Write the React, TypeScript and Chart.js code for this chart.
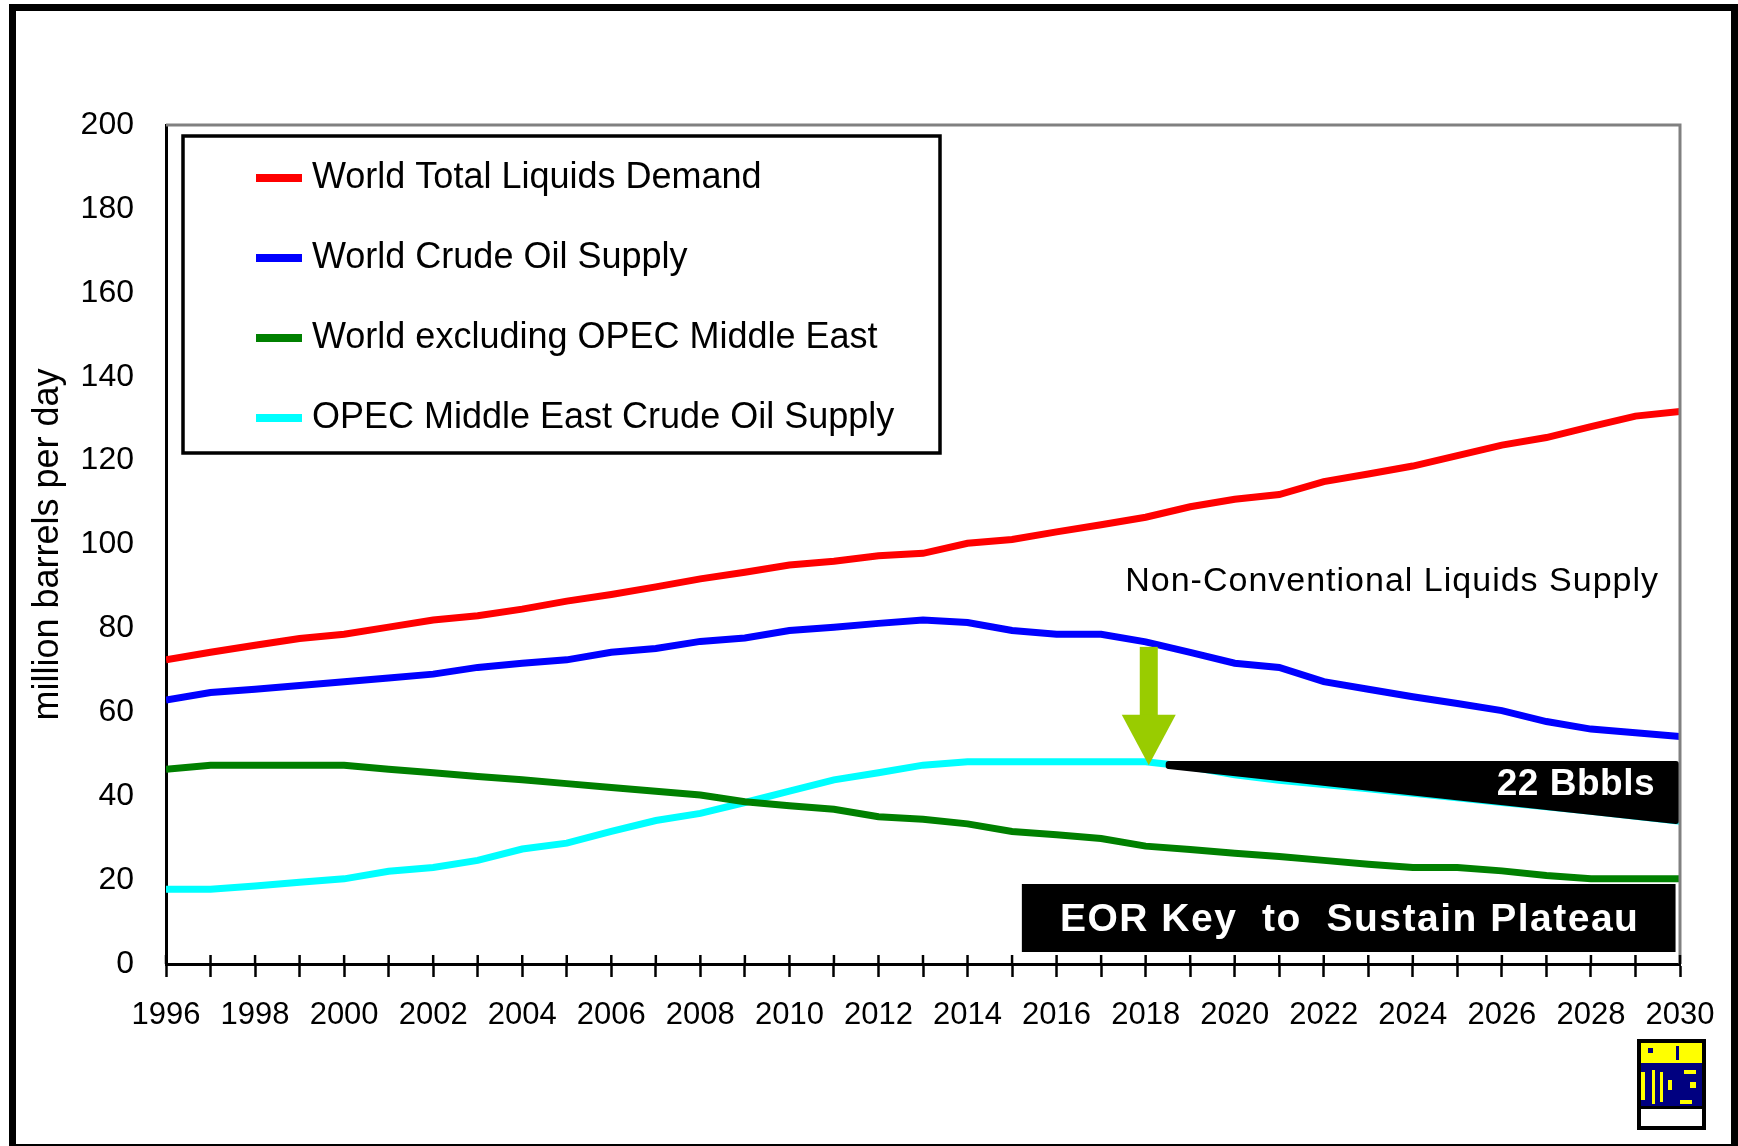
import React, { useEffect, useRef } from "react";
import { Chart, registerables } from "chart.js";

Chart.register(...registerables);

const years = [1996, 1997, 1998, 1999, 2000, 2001, 2002, 2003, 2004, 2005, 2006, 2007, 2008, 2009, 2010, 2011, 2012, 2013, 2014, 2015, 2016, 2017, 2018, 2019, 2020, 2021, 2022, 2023, 2024, 2025, 2026, 2027, 2028, 2029, 2030];

const worldTotalLiquidsDemand = [72.5, 74.3, 76.0, 77.6, 78.6, 80.3, 82.0, 83.0, 84.6, 86.5, 88.1, 89.9, 91.8, 93.4, 95.1, 96.0, 97.3, 97.9, 100.3, 101.2, 103.0, 104.7, 106.5, 109.0, 110.8, 111.9, 115.0, 116.8, 118.7, 121.2, 123.7, 125.5, 128.1, 130.6, 131.7];

const worldCrudeOilSupply = [62.9, 64.7, 65.5, 66.4, 67.3, 68.2, 69.1, 70.7, 71.7, 72.5, 74.3, 75.2, 76.9, 77.7, 79.5, 80.3, 81.2, 82.0, 81.4, 79.5, 78.6, 78.6, 76.8, 74.3, 71.7, 70.7, 67.3, 65.5, 63.7, 62.1, 60.4, 57.8, 56.0, 55.1, 54.2];

const worldExOpecMiddleEast = [46.4, 47.4, 47.4, 47.4, 47.4, 46.4, 45.6, 44.7, 43.9, 43.0, 42.1, 41.2, 40.3, 38.7, 37.7, 36.9, 35.1, 34.5, 33.4, 31.6, 30.8, 29.9, 28.1, 27.3, 26.4, 25.6, 24.7, 23.8, 23.0, 23.0, 22.2, 21.1, 20.3, 20.3, 20.3];

const opecMiddleEastCrudeSupply = [17.8, 17.8, 18.6, 19.5, 20.3, 22.1, 23.0, 24.7, 27.4, 28.8, 31.6, 34.2, 35.9, 38.5, 41.2, 43.9, 45.6, 47.4, 48.2, 48.2, 48.2, 48.2, 48.2, 47.0, 45.1, 43.8, 42.8, 41.8, 40.7, 39.6, 38.5, 37.5, 36.4, 35.2, 34.0];

const seriesLabels = [
  "World Total Liquids Demand",
  "World Crude Oil Supply",
  "World excluding OPEC Middle East",
  "OPEC Middle East Crude Oil Supply",
];
const seriesColors = ["#FF0000", "#0000FF", "#008000", "#00FFFF"];

const yTicks = [0, 20, 40, 60, 80, 100, 120, 140, 160, 180, 200];
const yAxisTitle = "million barrels per day";
const noteText = "Non-Conventional Liquids Supply";
const wedgeText = "22 Bbbls";
const boxText = "EOR Key  to  Sustain Plateau";

const FONT = "'Liberation Sans', Arial, sans-serif";

const bgPlugin = {
  id: "bg",
  beforeDraw(chart: any) {
    const { ctx, width, height } = chart;
    ctx.save();
    ctx.fillStyle = "#FFFFFF";
    ctx.fillRect(0, 0, width, height);
    ctx.restore();
  },
};

const annotationPlugin = {
  id: "annots",
  afterDatasetsDraw(chart: any) {
    const { ctx, chartArea } = chart;
    const x = chart.scales.x;
    const y = chart.scales.y;
    ctx.save();

    // black wedge (22 Bbbls)
    const wx = x.getPixelForValue(2018.45) + 3;
    const r = chartArea.right - 4;
    ctx.beginPath();
    ctx.moveTo(wx, y.getPixelForValue(47.7));
    ctx.lineTo(r, y.getPixelForValue(47.7));
    ctx.lineTo(r, y.getPixelForValue(34.1));
    ctx.lineTo(wx, y.getPixelForValue(47.2));
    ctx.closePath();
    ctx.fillStyle = "#000000";
    ctx.fill();
    ctx.lineJoin = "round";
    ctx.lineWidth = 6;
    ctx.strokeStyle = "#000000";
    ctx.stroke();

    ctx.fillStyle = "#FFFFFF";
    ctx.font = `bold 37px ${FONT}`;
    (ctx as any).letterSpacing = "0.5px";
    ctx.textAlign = "right";
    ctx.textBaseline = "middle";
    ctx.fillText(wedgeText, chartArea.right - 25, y.getPixelForValue(42.7));

    // green arrow
    const ax = x.getPixelForValue(2018.07);
    const shaftTop = y.getPixelForValue(75.6);
    const headBase = y.getPixelForValue(59.4);
    const tip = y.getPixelForValue(47.4);
    ctx.fillStyle = "#99CC00";
    ctx.fillRect(ax - 9, shaftTop, 18, headBase - shaftTop + 1);
    ctx.beginPath();
    ctx.moveTo(ax - 27, headBase);
    ctx.lineTo(ax + 27, headBase);
    ctx.lineTo(ax, tip);
    ctx.closePath();
    ctx.fill();

    // note text
    (ctx as any).letterSpacing = "1px";
    ctx.fillStyle = "#000000";
    ctx.font = `34px ${FONT}`;
    ctx.textAlign = "right";
    ctx.textBaseline = "middle";
    ctx.fillText(noteText, chartArea.right - 21, y.getPixelForValue(91.1));

    // EOR box
    const bx1 = x.getPixelForValue(2015.22);
    const bx2 = x.getPixelForValue(2029.9);
    const by1 = y.getPixelForValue(19.07);
    const by2 = y.getPixelForValue(2.86);
    ctx.fillStyle = "#000000";
    ctx.fillRect(bx1, by1, bx2 - bx1, by2 - by1);
    ctx.fillStyle = "#FFFFFF";
    ctx.font = `bold 39px ${FONT}`;
    (ctx as any).letterSpacing = "1.5px";
    ctx.textAlign = "center";
    ctx.textBaseline = "middle";
    ctx.fillText(boxText, (bx1 + bx2) / 2 + 1, y.getPixelForValue(11.0) + 2);
    (ctx as any).letterSpacing = "0px";

    ctx.restore();
  },
  afterDraw(chart: any) {
    const { ctx, chartArea } = chart;
    const x = chart.scales.x;
    ctx.save();

    // gray top/right plot border
    ctx.strokeStyle = "#808080";
    ctx.lineWidth = 3;
    ctx.beginPath();
    ctx.moveTo(chartArea.left, chartArea.top);
    ctx.lineTo(chartArea.right, chartArea.top);
    ctx.lineTo(chartArea.right, chartArea.bottom);
    ctx.stroke();

    // tick marks above x axis
    ctx.strokeStyle = "#000000";
    ctx.lineWidth = 2.5;
    for (const yr of years) {
      const px = x.getPixelForValue(yr);
      ctx.beginPath();
      ctx.moveTo(px, chartArea.bottom - 9);
      ctx.lineTo(px, chartArea.bottom);
      ctx.stroke();
    }

    // legend
    const lx1 = 183, ly1 = 136, lx2 = 940, ly2 = 453;
    ctx.fillStyle = "#FFFFFF";
    ctx.fillRect(lx1, ly1, lx2 - lx1, ly2 - ly1);
    ctx.strokeStyle = "#000000";
    ctx.lineWidth = 3.5;
    ctx.strokeRect(lx1, ly1, lx2 - lx1, ly2 - ly1);
    chart.data.datasets.forEach((ds: any, i: number) => {
      const cy = 178 + i * 80;
      ctx.fillStyle = ds.borderColor;
      ctx.fillRect(256, cy - 4, 46, 8);
      ctx.fillStyle = "#000000";
      ctx.font = `36px ${FONT}`;
      ctx.textAlign = "left";
      ctx.textBaseline = "middle";
      ctx.fillText(ds.label, 312, cy);
    });

    // small logo
    ctx.fillStyle = "#000000";
    ctx.fillRect(1637, 1039, 69, 91);
    ctx.fillStyle = "#FFFFFF";
    ctx.fillRect(1641, 1109, 61, 17);
    ctx.fillStyle = "#000080";
    ctx.fillRect(1641, 1043, 61, 63);
    ctx.fillStyle = "#FFFF00";
    ctx.fillRect(1641, 1043, 61, 20);
    ctx.fillStyle = "#000080";
    ctx.fillRect(1648, 1048, 5, 5);
    ctx.fillRect(1676, 1046, 3, 14);
    ctx.fillStyle = "#FFFF00";
    ctx.fillRect(1641, 1072, 4, 28);
    ctx.fillRect(1652, 1070, 3, 34);
    ctx.fillRect(1660, 1072, 3, 30);
    ctx.fillRect(1668, 1080, 4, 10);
    ctx.fillRect(1684, 1070, 12, 4);
    ctx.fillRect(1690, 1082, 6, 6);
    ctx.fillRect(1680, 1100, 12, 4);

    // outer frame
    ctx.fillStyle = "#000000";
    ctx.fillRect(9, 4, 1729, 7);
    ctx.fillRect(9, 4, 7, 1142);
    ctx.fillRect(1731, 4, 7, 1142);
    ctx.fillRect(9, 1144, 1729, 2);

    ctx.restore();
  },
};

export default function App() {
  const canvasRef = useRef<HTMLCanvasElement | null>(null);

  useEffect(() => {
    document.body.style.margin = "0";
    const canvas = canvasRef.current;
    if (!canvas) return;
    const seriesValues = [
      worldTotalLiquidsDemand,
      worldCrudeOilSupply,
      worldExOpecMiddleEast,
      opecMiddleEastCrudeSupply,
    ];
    const chart = new Chart(canvas, {
      type: "line",
      data: {
        datasets: seriesValues.map((vals, i) => ({
          label: seriesLabels[i],
          data: years.map((yr, j) => ({ x: yr, y: vals[j] })),
          borderColor: seriesColors[i],
          backgroundColor: seriesColors[i],
          borderWidth: 7,
          pointRadius: 0,
          tension: 0,
          fill: false,
        })),
      },
      options: {
        responsive: false,
        animation: false,
        devicePixelRatio: 1,
        layout: { padding: { left: 0, right: 58, top: 125, bottom: 0 } },
        plugins: {
          legend: { display: false },
          tooltip: { enabled: false },
          title: { display: false },
        },
        scales: {
          x: {
            type: "linear",
            min: years[0],
            max: years[years.length - 1],
            afterFit: (scale: any) => {
              scale.height = 182;
            },
            afterBuildTicks: (scale: any) => {
              scale.ticks = years.map((v) => ({ value: v }));
            },
            ticks: {
              stepSize: 1,
              autoSkip: false,
              maxRotation: 0,
              padding: 20,
              color: "#000000",
              font: { family: FONT, size: 31 },
              callback: (v: any) => (Number(v) % 2 === 0 ? String(v) : ""),
            },
            grid: {
              display: true,
              drawOnChartArea: false,
              drawTicks: true,
              tickLength: 13,
              tickWidth: 2.5,
              tickColor: "#000000",
              color: "#000000",
            },
            border: { display: true, color: "#000000", width: 3 },
          },
          y: {
            type: "linear",
            min: yTicks[0],
            max: yTicks[yTicks.length - 1],
            afterFit: (scale: any) => {
              scale.width = 166;
            },
            afterBuildTicks: (scale: any) => {
              scale.ticks = yTicks.map((v) => ({ value: v }));
            },
            ticks: {
              padding: 32,
              color: "#000000",
              font: { family: FONT, size: 32 },
            },
            grid: { display: false, drawTicks: false },
            border: { display: true, color: "#000000", width: 3 },
            title: {
              display: true,
              text: yAxisTitle,
              color: "#000000",
              font: { family: FONT, size: 36 },
              padding: { top: 26, bottom: 0 },
            },
          },
        },
      },
      plugins: [bgPlugin, annotationPlugin],
    });
    return () => {
      chart.destroy();
    };
  }, []);

  return (
    <canvas
      ref={canvasRef}
      width={1738}
      height={1146}
      style={{ display: "block", width: "1738px", height: "1146px" }}
    />
  );
}
